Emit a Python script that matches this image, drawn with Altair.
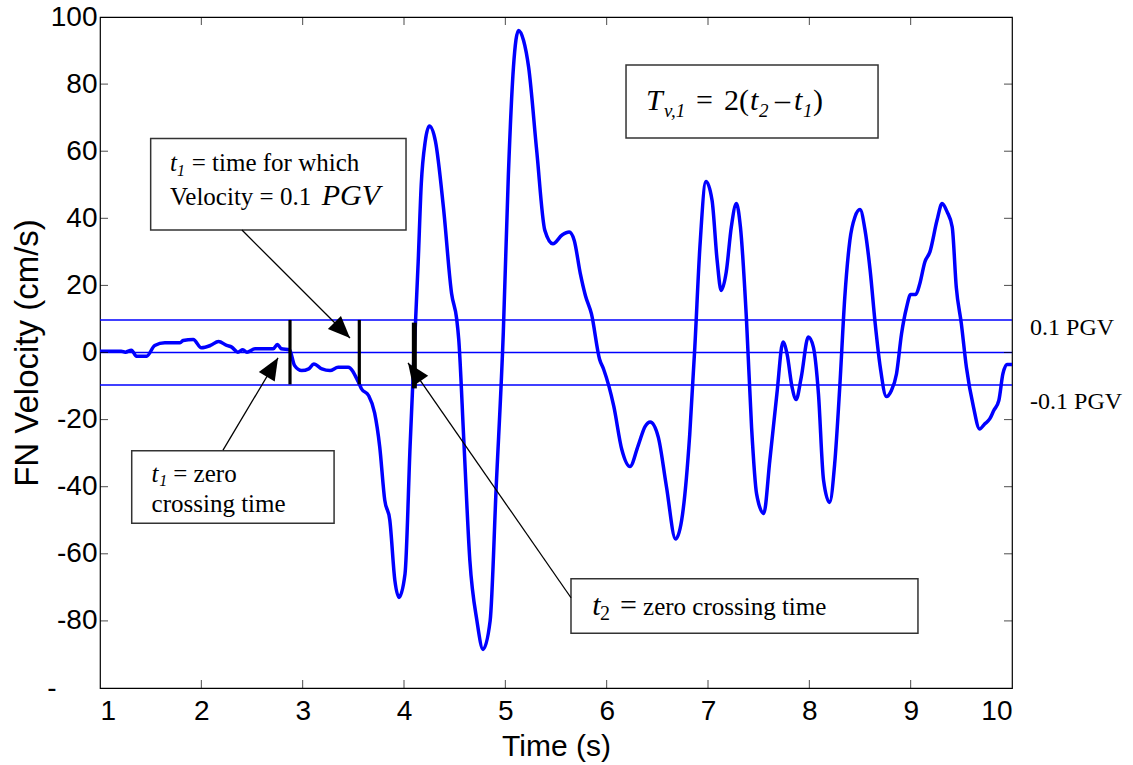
import math
import altair as alt
import pandas as pd

# ---------------- data ----------------
time_s = [1.00, 1.21, 1.25, 1.31, 1.36, 1.46, 1.54, 1.64, 1.79, 1.82, 1.92, 2.00, 2.09, 2.17,
          2.25, 2.30, 2.36, 2.41, 2.45, 2.53, 2.71, 2.75, 2.79, 2.87, 2.92, 2.99, 3.06, 3.11,
          3.19, 3.27, 3.35, 3.45, 3.55, 3.58, 3.65, 3.71, 3.76, 3.81, 3.86, 3.91, 3.95, 4.01,
          4.06, 4.10, 4.14, 4.17, 4.21, 4.25, 4.31, 4.39, 4.47, 4.52, 4.54, 4.59, 4.65, 4.72,
          4.78, 4.85, 4.91, 4.98, 5.03, 5.08, 5.13, 5.18, 5.23, 5.31, 5.39, 5.47, 5.56, 5.63,
          5.68, 5.74, 5.79, 5.85, 5.93, 5.97, 6.07, 6.15, 6.23, 6.31, 6.38, 6.43, 6.51, 6.59,
          6.68, 6.74, 6.82, 6.87, 6.92, 6.98, 7.04, 7.09, 7.13, 7.18, 7.23, 7.28, 7.32, 7.38,
          7.43, 7.48, 7.55, 7.61, 7.68, 7.74, 7.78, 7.83, 7.87, 7.92, 7.99, 8.04, 8.09, 8.14,
          8.20, 8.25, 8.30, 8.35, 8.40, 8.45, 8.50, 8.55, 8.60, 8.65, 8.70, 8.76, 8.81, 8.86,
          8.91, 8.96, 9.00, 9.05, 9.09, 9.14, 9.19, 9.26, 9.31, 9.36, 9.41, 9.45, 9.50, 9.55,
          9.62, 9.68, 9.73, 9.78, 9.82, 9.87, 9.91, 9.95, 10.00]
velocity = [0.4, 0.4, 0.1, 0.7, -1.1, -1.1, 2.1, 2.9, 2.9, 3.6, 3.9, 1.4, 2.1, 3.3,
            2.1, 1.6, 0.1, 0.8, 0.1, 1.1, 1.1, 2.4, 1.1, 0.8, -3.9, -5.4, -4.9, -3.4,
            -4.9, -5.4, -4.4, -4.4, -8.8, -10.8, -12.8, -18.0, -28.0, -44.0, -50.0, -68.0, -73.0, -66.0,
            -28.0, 0.0, 27.0, 50.0, 63.0, 67.5, 63.0, 43.0, 17.5, 10.0, 4.0, -26.0, -62.0, -80.0,
            -88.5, -80.0, -40.0, 6.0, 53.0, 85.0, 96.0, 93.0, 85.0, 60.0, 36.4, 32.4, 35.0, 35.9,
            33.4, 23.5, 17.0, 11.5, -2.0, -5.0, -16.0, -29.0, -34.0, -27.8, -22.0, -20.7, -25.3, -40.0,
            -55.6, -50.0, -24.3, 1.6, 31.4, 51.0, 45.4, 27.5, 18.5, 24.0, 37.4, 44.4, 37.4, 9.6,
            -22.3, -42.2, -48.0, -32.2, -12.3, 3.1, -0.4, -10.4, -14.0, -7.4, 4.6, 1.6, -12.3, -38.0,
            -44.7, -33.2, -10.4, 16.5, 33.4, 40.4, 42.6, 36.4, 24.5, 8.6, -4.4, -13.1, -11.3, -6.4,
            5.6, 13.5, 17.3, 17.3, 20.5, 27.0, 30.0, 39.4, 44.4, 41.9, 37.4, 19.5, 8.6, -4.4,
            -16.3, -22.8, -21.3, -19.8, -17.3, -14.3, -6.4, -3.6, -3.6]

level_values = [9.7, 0.0, -9.7]          # +0.1 PGV, 0, -0.1 PGV
x_ticks = [1, 2, 3, 4, 5, 6, 7, 8, 9, 10]
y_ticks = [-100, -80, -60, -40, -20, 0, 20, 40, 60, 80, 100]

marker_t = [2.875, 3.559]
marker_top = [9.7, 9.7]
marker_bottom = [-9.5, -9.5]
marker2_t = [4.102]
marker2_top = [8.9]
marker2_bottom = [-10.7]

box_t0 = [6.191, 1.500, 1.313, 5.648]
box_t1 = [8.678, 4.020, 3.310, 9.072]
box_v0 = [85.7, 63.8, -29.3, -67.4]
box_v1 = [63.9, 36.5, -50.9, -83.7]

arrow_t0 = [2.401, 2.214, 5.648]
arrow_v0 = [36.5, -29.1, -73.1]
arrow_t1 = [3.467, 2.757, 4.040]
arrow_v1 = [4.3, -1.6, -3.1]

# formula  T_{v,1} = 2(t_2 - t_1)
f_big_italic = ["T", "t", "t"]
f_big_italic_t = [6.388, 7.415, 7.849]
f_big_roman = ["=", "2(", "\u2013", ")"]
f_big_roman_t = [6.882, 7.158, 7.662, 8.037]
f_sub = ["v,1", "2", "1"]
f_sub_t = [6.566, 7.503, 7.938]
f_base_v = 72.3
f_sub_v = 70.2

note_roman = ["= time for which", "Velocity = 0.1", "= zero", "crossing time", "zero crossing time"]
note_roman_t = [1.905, 1.691, 1.723, 1.509, 6.359]
note_roman_v = [54.1, 44.0, -38.5, -47.5, -78.2]
note_italic = ["t", "t"]
note_italic_t = [1.691, 1.509]
note_italic_v = [54.1, -38.5]
note_sub = ["1", "1"]
note_sub_t = [1.760, 1.584]
note_sub_v = [52.6, -39.8]
pgv_label = ["PGV"]
pgv_t = [3.188]
pgv_v = [44.0]
t2_big = ["t", "="]
t2_big_style = ["italic", "normal"]
t2_big_t = [5.857, 6.132]
t2_big_v = [-78.2, -78.2]
t2_sub = ["2"]
t2_sub_t = [5.934]
t2_sub_v = [-79.7]

side_labels = ["0.1 PGV", "-0.1 PGV"]
side_t = [10.178, 10.178]
side_v = [5.2, -16.8]

# ---------------- geometry ----------------
W, H = 912, 671
X_DOM = [1, 10]
Y_DOM = [-100, 100]
sx = W / (X_DOM[1] - X_DOM[0])
sy = H / (Y_DOM[1] - Y_DOM[0])

xs = alt.Scale(domain=X_DOM, nice=False, zero=False)
ys = alt.Scale(domain=Y_DOM, nice=False, zero=False)

SANS = "Liberation Sans"
SERIF = "Liberation Serif"

x_axis = alt.Axis(values=x_ticks, ticks=False, domain=False, grid=False,
                  labelExpr="'' + datum.value",
                  labelFont=SANS, labelFontSize=28, labelColor="black", labelPadding=9,
                  title="Time (s)", titleFont=SANS, titleFontSize=30, titleFontWeight="normal",
                  titleColor="black", titlePadding=6)
y_axis = alt.Axis(values=y_ticks, ticks=False, domain=False, grid=False,
                  labelFont=SANS, labelFontSize=28, labelColor="black",
                  labelPadding={"condition": {"test": "datum.value == -100", "value": 44}, "value": 3},
                  labelExpr="datum.value == -100 ? '-' : '' + datum.value",
                  title="FN Velocity (cm/s)", titleFont=SANS, titleFontSize=33,
                  titleFontWeight="normal", titleColor="black", titlePadding=2)

curve_df = pd.DataFrame({"t": time_s, "v": velocity})
curve = alt.Chart(curve_df).mark_line(color="#0000FF", strokeWidth=3.5, interpolate="monotone").encode(
    x=alt.X("t:Q", scale=xs, axis=x_axis),
    y=alt.Y("v:Q", scale=ys, axis=y_axis),
)

levels = alt.Chart(pd.DataFrame({"v": level_values})).mark_rule(color="#0000FF", strokeWidth=1.4).encode(
    y=alt.Y("v:Q", scale=ys))

markers = alt.Chart(pd.DataFrame({"t": marker_t, "a": marker_top, "b": marker_bottom})).mark_rule(
    color="black", strokeWidth=3.2).encode(x=alt.X("t:Q", scale=xs), y=alt.Y("a:Q", scale=ys), y2="b:Q")
markers2 = alt.Chart(pd.DataFrame({"t": marker2_t, "a": marker2_top, "b": marker2_bottom})).mark_rule(
    color="black", strokeWidth=5).encode(x=alt.X("t:Q", scale=xs), y=alt.Y("a:Q", scale=ys), y2="b:Q")

boxes = alt.Chart(pd.DataFrame({"t0": box_t0, "t1": box_t1, "v0": box_v0, "v1": box_v1})).mark_rect(
    fill="white", stroke="#333333", strokeWidth=1.5).encode(
    x=alt.X("t0:Q", scale=xs), x2="t1:Q", y=alt.Y("v0:Q", scale=ys), y2="v1:Q")

arrow_df = pd.DataFrame({"t0": arrow_t0, "v0": arrow_v0, "t1": arrow_t1, "v1": arrow_v1})
arrow_df["angle"] = [
    math.degrees(math.atan2((b - a) * sx, (d - c) * sy)) % 360
    for a, b, c, d in zip(arrow_t0, arrow_t1, arrow_v0, arrow_v1)
]
arrow_lines = alt.Chart(arrow_df).mark_rule(color="black", strokeWidth=1.3).encode(
    x=alt.X("t0:Q", scale=xs), y=alt.Y("v0:Q", scale=ys), x2="t1:Q", y2="v1:Q")
arrow_heads = alt.Chart(arrow_df).mark_point(
    shape="M0,0L0.42,1L-0.42,1Z", filled=True, color="black", opacity=1, size=1936, strokeWidth=0).encode(
    x=alt.X("t1:Q", scale=xs), y=alt.Y("v1:Q", scale=ys), angle=alt.Angle("angle:Q", scale=None))

# inward tick marks on all four sides
inner_x = x_ticks[1:-1]
inner_y = y_ticks[1:-1]
tick_kw = dict(color="black", thickness=1, size=8)
tb = alt.Chart(pd.DataFrame({"t": inner_x})).mark_tick(orient="vertical", yOffset=-4, **tick_kw).encode(
    x=alt.X("t:Q", scale=xs), y=alt.datum(Y_DOM[0]))
tt = alt.Chart(pd.DataFrame({"t": inner_x})).mark_tick(orient="vertical", yOffset=4, **tick_kw).encode(
    x=alt.X("t:Q", scale=xs), y=alt.datum(Y_DOM[1]))
tl = alt.Chart(pd.DataFrame({"v": inner_y})).mark_tick(orient="horizontal", xOffset=4, **tick_kw).encode(
    y=alt.Y("v:Q", scale=ys), x=alt.datum(X_DOM[0]))
tr = alt.Chart(pd.DataFrame({"v": inner_y})).mark_tick(orient="horizontal", xOffset=-4, **tick_kw).encode(
    y=alt.Y("v:Q", scale=ys), x=alt.datum(X_DOM[1]))


def text_layer(labels, ts, vs, size, style="normal"):
    df = pd.DataFrame({"label": labels, "t": ts, "v": vs})
    return alt.Chart(df).mark_text(align="left", baseline="alphabetic", font=SERIF, fontSize=size,
                                   fontStyle=style, color="black").encode(
        x=alt.X("t:Q", scale=xs), y=alt.Y("v:Q", scale=ys), text="label:N")


texts = [
    text_layer(f_big_italic, f_big_italic_t, [f_base_v] * 3, 30, "italic"),
    text_layer(f_big_roman, f_big_roman_t, [f_base_v] * 4, 30),
    text_layer(f_sub, f_sub_t, [f_sub_v] * 3, 19, "italic"),
    text_layer(note_roman, note_roman_t, note_roman_v, 25),
    text_layer(note_italic, note_italic_t, note_italic_v, 25, "italic"),
    text_layer(note_sub, note_sub_t, note_sub_v, 16, "italic"),
    text_layer(pgv_label, pgv_t, pgv_v, 30, "italic"),
    text_layer(t2_big[:1], t2_big_t[:1], t2_big_v[:1], 30, t2_big_style[0]),
    text_layer(t2_big[1:], t2_big_t[1:], t2_big_v[1:], 30, t2_big_style[1]),
    text_layer(t2_sub, t2_sub_t, t2_sub_v, 20),
    text_layer(side_labels, side_t, side_v, 24),
]

chart = alt.layer(
    levels, curve, markers, markers2, boxes, arrow_lines, arrow_heads, tb, tt, tl, tr, *texts
).properties(
    width=W, height=H,
    autosize=alt.AutoSizeParams(type="none"),
    padding={"left": 100, "top": 17, "right": 121, "bottom": 77},
    background="white",
).configure_view(stroke="black", strokeWidth=1.2)

chart.save("out.html", embed_options={"renderer": "svg", "actions": False})
